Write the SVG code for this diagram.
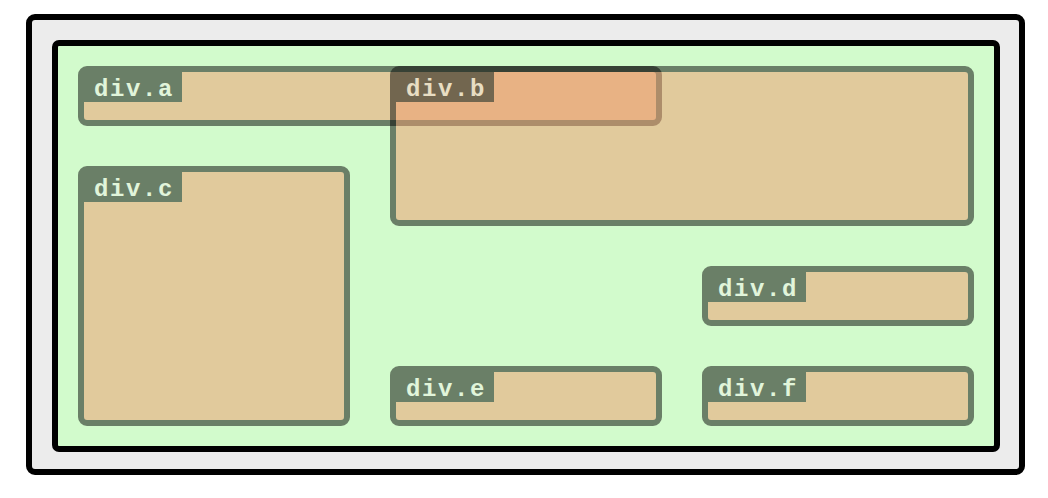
<svg xmlns="http://www.w3.org/2000/svg" width="1048" height="498" viewBox="0 0 1048 498">
<style>
.node{opacity:0.5}
.box{fill:#f09b6e;stroke:#050505;stroke-width:6}
.tab{fill:#050505}
.lbl{font-family:"Liberation Mono","Courier New",monospace;font-weight:bold;font-size:24px;fill:#f0f0e8;letter-spacing:1.6px}
</style>
<rect x="29" y="17" width="993" height="455" rx="6" fill="#ececec" stroke="#000" stroke-width="6"/>
<rect x="55" y="43" width="942" height="406" rx="4" fill="#d2fbcc" stroke="#000" stroke-width="6"/>
<g id="div-a" class="node">
<rect class="box" x="81" y="69" width="578" height="54" rx="6"/>
<rect class="tab" x="84" y="72" width="98" height="30"/>
<text class="lbl" x="94" y="96">div.a</text>
</g>
<g id="div-b" class="node">
<rect class="box" x="393" y="69" width="578" height="154" rx="6"/>
<rect class="tab" x="396" y="72" width="98" height="30"/>
<text class="lbl" x="406" y="96">div.b</text>
</g>
<g id="div-c" class="node">
<rect class="box" x="81" y="169" width="266" height="254" rx="6"/>
<rect class="tab" x="84" y="172" width="98" height="30"/>
<text class="lbl" x="94" y="196">div.c</text>
</g>
<g id="div-d" class="node">
<rect class="box" x="705" y="269" width="266" height="54" rx="6"/>
<rect class="tab" x="708" y="272" width="98" height="30"/>
<text class="lbl" x="718" y="296">div.d</text>
</g>
<g id="div-e" class="node">
<rect class="box" x="393" y="369" width="266" height="54" rx="6"/>
<rect class="tab" x="396" y="372" width="98" height="30"/>
<text class="lbl" x="406" y="396">div.e</text>
</g>
<g id="div-f" class="node">
<rect class="box" x="705" y="369" width="266" height="54" rx="6"/>
<rect class="tab" x="708" y="372" width="98" height="30"/>
<text class="lbl" x="718" y="396">div.f</text>
</g>
<g id="connectors"></g>
</svg>
